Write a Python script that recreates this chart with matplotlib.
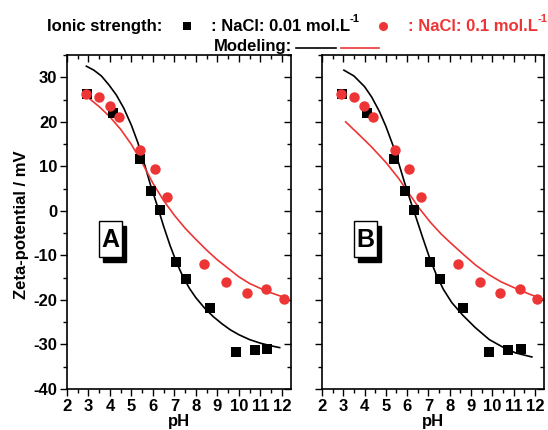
import numpy as np
import matplotlib
matplotlib.use('Agg')
import matplotlib.pyplot as plt
from matplotlib.lines import Line2D
from matplotlib.patches import Rectangle
from matplotlib.ticker import MultipleLocator

plt.rcParams['font.family'] = ['Liberation Sans', 'DejaVu Sans']
plt.rcParams['font.weight'] = 'bold'
plt.rcParams['axes.unicode_minus'] = False

RED = '#ee3535'

# measured points (same in both panels)
ph_01 = [2.93, 4.12, 5.38, 5.91, 6.31, 7.08, 7.55, 8.64, 9.85, 10.74, 11.33]
zeta_01 = [26.2, 21.9, 11.7, 4.55, 0.2, -11.5, -15.4, -21.7, -31.6, -31.2, -31.1]

ph_1 = [2.87, 3.50, 3.98, 4.40, 5.41, 6.08, 6.66, 8.37, 9.40, 10.36, 11.28, 12.1]
zeta_1 = [26.2, 25.6, 23.5, 21.1, 13.7, 9.4, 3.2, -12.0, -15.9, -18.5, -17.5, -19.8]

# model curves, panel A
ph_modA_01 = [2.9, 3.25, 3.6, 3.95, 4.3, 4.65, 5.0, 5.3, 5.6, 5.9, 6.2, 6.5, 6.8, 7.1,
              7.4, 7.7, 8.0, 8.4, 8.8, 9.2, 9.6, 10.0, 10.5, 11.0, 11.5, 11.9]
zeta_modA_01 = [32.5, 31.6, 30.3, 28.3, 26.0, 23.0, 19.2, 15.3, 10.6, 5.6, 1.2, -3.5, -7.8, -11.6,
                -14.8, -17.4, -19.5, -21.8, -23.7, -25.3, -26.7, -27.8, -28.9, -29.7, -30.3, -30.7]
ph_modA_1 = [3.07, 3.5, 4.0, 4.5, 5.0, 5.5, 6.0, 6.5, 7.0, 7.5, 8.0, 8.5, 9.0, 9.5, 10.0,
             10.5, 11.0, 11.5, 12.1]
zeta_modA_1 = [25.1, 23.4, 21.1, 18.3, 14.9, 10.8, 6.2, 2.3, -1.0, -3.9, -6.4, -8.8, -11.0, -12.9,
               -14.8, -16.3, -17.4, -18.4, -19.4]

# model curves, panel B
ph_modB_01 = [3.03, 3.5, 4.0, 4.33, 4.7, 5.0, 5.42, 5.87, 6.2, 6.42, 6.73, 7.05, 7.36, 7.7,
              8.1, 8.61, 9.2, 9.86, 10.5, 11.1, 11.86]
zeta_modB_01 = [31.6, 30.3, 27.9, 25.6, 22.3, 19.0, 13.6, 6.5, 1.6, -1.5, -6.0, -10.5, -14.2, -17.6,
                -20.6, -23.4, -26.2, -28.9, -30.6, -31.9, -32.8]
ph_modB_1 = [3.11, 3.7, 4.3, 5.0, 5.6, 6.1, 6.6, 7.1, 7.6, 8.0, 8.6, 9.2, 9.8, 10.4, 11.1,
             11.8, 12.4]
zeta_modB_1 = [20.0, 17.3, 14.5, 10.9, 7.3, 3.8, 0.4, -2.6, -5.2, -7.0, -9.6, -12.1, -14.2, -15.9,
               -17.4, -18.8, -19.8]

fig = plt.figure(figsize=(5.48, 4.30), dpi=100)
axA = fig.add_axes([0.1223, 0.0953, 0.4088, 0.7767])
axB = fig.add_axes([0.5876, 0.0953, 0.4051, 0.7767])

panels = [(axA, 'A', ph_modA_01, zeta_modA_01, ph_modA_1, zeta_modA_1),
          (axB, 'B', ph_modB_01, zeta_modB_01, ph_modB_1, zeta_modB_1)]

for ax, letter, px0, zx0, px1, zx1 in panels:
    ax.plot(px0, zx0, color='black', lw=1.2, zorder=2)
    ax.plot(px1, zx1, color=RED, lw=1.2, zorder=2)
    ax.plot(ph_01, zeta_01, 's', color='black', ms=6.6, mew=0, zorder=3)
    ax.plot(ph_1, zeta_1, 'o', color=RED, ms=7.5, mew=0, zorder=4)

    ax.set_xlim(2, 12.43)
    ax.set_ylim(-40, 35)
    ax.xaxis.set_major_locator(MultipleLocator(1))
    ax.xaxis.set_minor_locator(MultipleLocator(0.5))
    ax.yaxis.set_major_locator(MultipleLocator(10))
    ax.yaxis.set_minor_locator(MultipleLocator(5))
    ax.tick_params(which='both', top=True, right=True, width=1.0, labelsize=12)
    ax.tick_params(which='major', length=5, pad=2)
    ax.tick_params(which='minor', length=3)
    for s in ax.spines.values():
        s.set_linewidth(1.2)
    ax.set_xlabel('pH', fontsize=12, fontweight='bold', labelpad=0)
    for lab in ax.get_xticklabels() + ax.get_yticklabels():
        lab.set_fontweight('bold')

    # boxed panel letter with a drop shadow
    ax.add_patch(Rectangle((0.161, 0.381), 0.103, 0.108, transform=ax.transAxes,
                           fc='black', ec='black', lw=1, zorder=5))
    ax.add_patch(Rectangle((0.143, 0.395), 0.103, 0.108, transform=ax.transAxes,
                           fc='white', ec='black', lw=1, zorder=6))
    ax.text(0.1945, 0.447, letter, transform=ax.transAxes, ha='center', va='center',
            fontsize=18, fontweight='bold', zorder=7)

# outward ticks on bottom/left, inward mirror ticks on top/right
for ax in (axA, axB):
    ax.xaxis.set_tick_params(which='both', direction='out')
    ax.yaxis.set_tick_params(which='both', direction='out')
    for t in ax.xaxis.get_major_ticks() + ax.xaxis.get_minor_ticks():
        t.tick2line.set_marker(3)
    for t in ax.yaxis.get_major_ticks() + ax.yaxis.get_minor_ticks():
        t.tick2line.set_marker(0)
axB.tick_params(labelleft=False)

fig.text(0.040, 0.478, 'Zeta-potential / mV', rotation=90, ha='center', va='center',
         fontsize=12, fontweight='bold')

# legend block at the top
fig.text(0.0858, 0.9395, 'Ionic strength:', ha='left', va='center', fontsize=12, fontweight='bold')
fig.add_artist(Line2D([187 / 548], [0.9395], transform=fig.transFigure, marker='s',
                      color='black', ms=5.5, mew=0, ls='none'))
t1 = fig.text(0.385, 0.9395, ': NaCl: 0.01 mol.L', ha='left', va='center', fontsize=12,
              fontweight='bold')
fig.add_artist(Line2D([383 / 548], [0.9395], transform=fig.transFigure, marker='o',
                      color=RED, ms=6.5, mew=0, ls='none'))
t2 = fig.text(0.744, 0.9395, ': NaCl: 0.1 mol.L', ha='left', va='center', fontsize=12,
              fontweight='bold', color=RED)
for t, c in ((t1, 'black'), (t2, RED)):
    fig.texts.append(matplotlib.text.Annotation('-1', xy=(1.0, 0.62), xycoords=t,
                                                fontsize=8, fontweight='bold', color=c,
                                                va='bottom', ha='left'))
    fig.texts[-1].set_figure(fig)
fig.text(0.3905, 0.8907, 'Modeling:', ha='left', va='center', fontsize=12, fontweight='bold')
fig.add_artist(Line2D([0.540, 0.613], [0.888, 0.888], transform=fig.transFigure,
                      color='black', lw=1.2))
fig.add_artist(Line2D([0.622, 0.692], [0.888, 0.888], transform=fig.transFigure,
                      color=RED, lw=1.2))

fig.savefig('out.png', dpi=100)
